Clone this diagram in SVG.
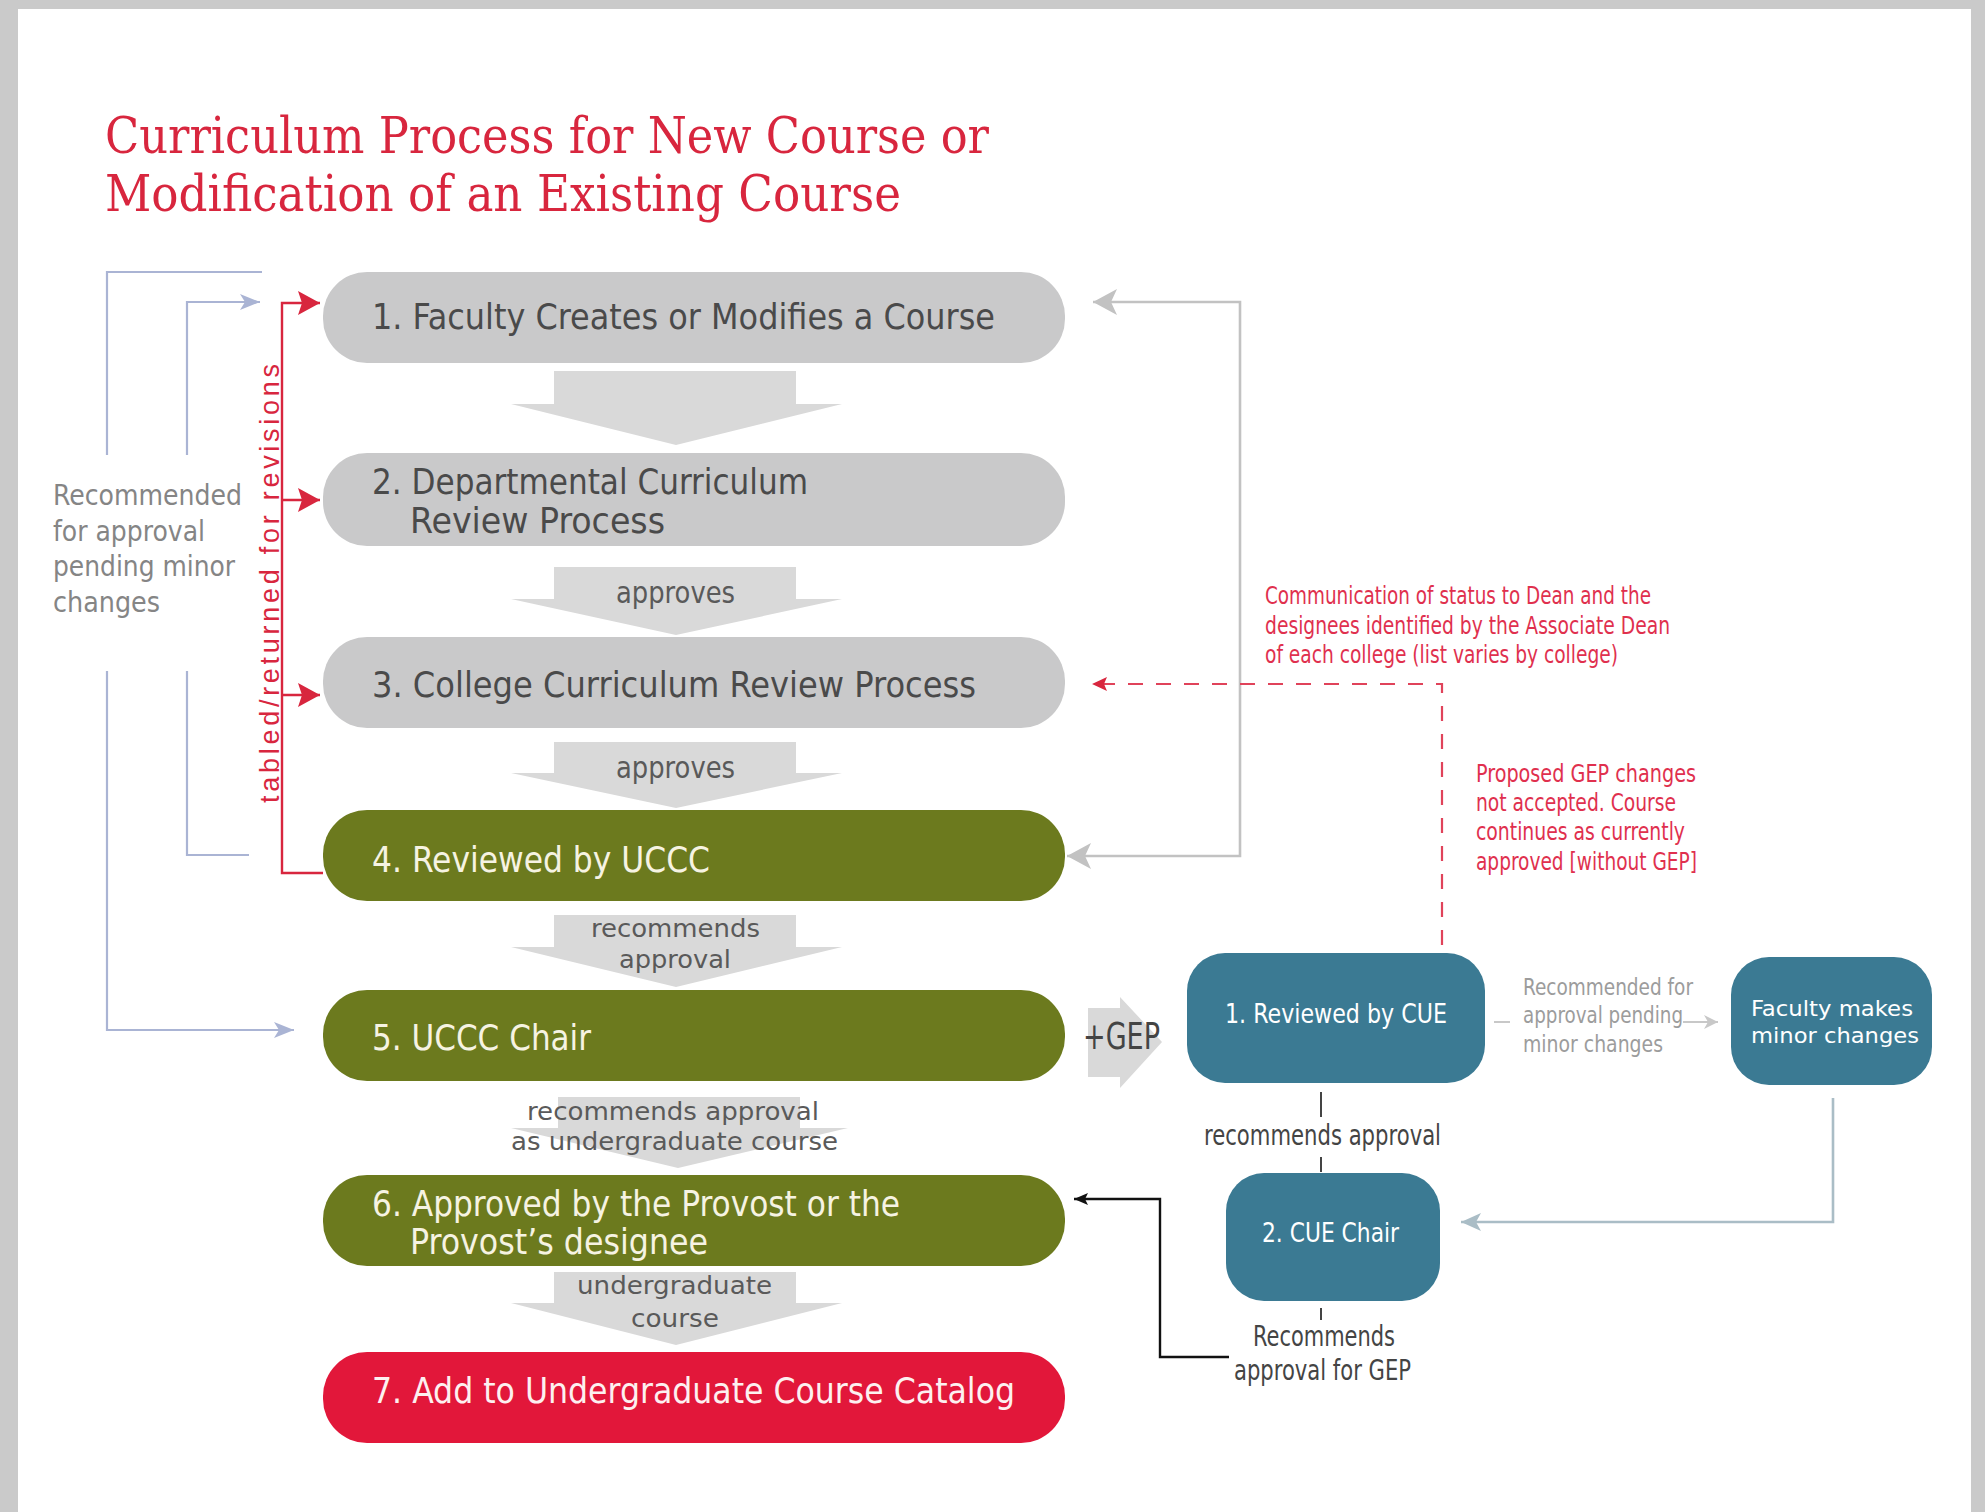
<svg xmlns="http://www.w3.org/2000/svg" width="1985" height="1512" viewBox="0 0 1985 1512">
<style>
.sans{font-family:'Liberation Sans Narrow','DejaVu Sans Condensed','Liberation Sans',Arial,sans-serif}
.gbox{fill:#c9c9ca}
.olive{fill:#6c7a1e}
.redbox{fill:#e2173a}
.teal{fill:#3b7a93}
.darr{fill:#d9d9d9}
.t-dark{fill:#4a4a4a;font-size:36px}
.t-light{fill:#f6f3e2;font-size:36px}
.t-lbl{fill:#5a5a5a;font-size:30px}
.t-lbl2{fill:#5a5a5a;font-size:25px}
.t-left{fill:#858585;font-size:29px}
.t-red{fill:#e0304e;font-size:24px}
.t-cue{fill:#ffffff;font-size:27px}
.t-fac{fill:#ffffff;font-size:21px}
.t-dk2{fill:#444444;font-size:28px}
.t-sm{fill:#9c9c9c;font-size:23px}
.blue{fill:none;stroke:#aab4d4;stroke-width:2.2}
.red{fill:none;stroke:#d8263e;stroke-width:2.4}
.grayc{fill:none;stroke:#c2c2c2;stroke-width:2.6}
.dash{fill:none;stroke:#e0435a;stroke-width:2.2;stroke-dasharray:15 13}
.blk{fill:none;stroke:#111;stroke-width:2.4}
.steel{fill:none;stroke:#aabdc6;stroke-width:2.6}
.lg{fill:none;stroke:#c8c8c8;stroke-width:2}
.dk{fill:none;stroke:#444;stroke-width:2}
</style>
<defs>
<marker id="mBlue" viewBox="0 0 20 16" refX="20" refY="8" markerWidth="20" markerHeight="16" markerUnits="userSpaceOnUse" orient="auto"><path d="M0,0 L20,8 L0,16 L5,8 z" fill="#aab4d4"/></marker>
<marker id="mRed" viewBox="0 0 22 24" refX="22" refY="12" markerWidth="22" markerHeight="24" markerUnits="userSpaceOnUse" orient="auto"><path d="M0,0 L22,12 L0,24 L4,12 z" fill="#d8263e"/></marker>
<marker id="mGray" viewBox="0 0 24 26" refX="24" refY="13" markerWidth="24" markerHeight="26" markerUnits="userSpaceOnUse" orient="auto-start-reverse"><path d="M0,0 L24,13 L0,26 L6,13 z" fill="#c2c2c2"/></marker>
<marker id="mRedS" viewBox="0 0 15 14" refX="15" refY="7" markerWidth="15" markerHeight="14" markerUnits="userSpaceOnUse" orient="auto"><path d="M0,0 L15,7 L0,14 L3,7 z" fill="#d8263e"/></marker>
<marker id="mBlk" viewBox="0 0 14 12" refX="14" refY="6" markerWidth="14" markerHeight="12" markerUnits="userSpaceOnUse" orient="auto"><path d="M0,0 L14,6 L0,12 L3,6 z" fill="#111"/></marker>
<marker id="mSteel" viewBox="0 0 20 18" refX="20" refY="9" markerWidth="20" markerHeight="18" markerUnits="userSpaceOnUse" orient="auto"><path d="M0,0 L20,9 L0,18 L5,9 z" fill="#aabdc6"/></marker>
<marker id="mLg" viewBox="0 0 14 14" refX="14" refY="7" markerWidth="14" markerHeight="14" markerUnits="userSpaceOnUse" orient="auto"><path d="M0,0 L14,7 L0,14 L4,7 z" fill="#c8c8c8"/></marker>
</defs>

<rect x="0" y="0" width="1985" height="1512" fill="#cacaca"/>
<rect x="18" y="9" width="1953" height="1503" fill="#ffffff"/>

<g id="title">
<text x="105" y="153" textLength="884" lengthAdjust="spacingAndGlyphs" style="font-family:'DejaVu Serif Condensed','DejaVu Serif','Liberation Serif',serif;font-size:50px;fill:#d8263e">Curriculum Process for New Course or</text>
<text x="105" y="211" textLength="796" lengthAdjust="spacingAndGlyphs" style="font-family:'DejaVu Serif Condensed','DejaVu Serif','Liberation Serif',serif;font-size:50px;fill:#d8263e">Modification of an Existing Course</text>
</g>

<g id="flow-arrows">
<polygon class="darr" points="554,371 796,371 796,404 842,404 676,445 511,404 554,404"/>
<polygon class="darr" points="554,567 796,567 796,599 842,599 676,635 511,599 554,599"/>
<polygon class="darr" points="554,742 796,742 796,773 842,773 676,808 511,773 554,773"/>
<polygon class="darr" points="554,915 796,915 796,947 842,947 676,987 511,947 554,947"/>
<polygon class="darr" points="558,1097 800,1097 800,1128 848,1128 678,1168 511,1128 558,1128"/>
<polygon class="darr" points="554,1272 796,1272 796,1303 842,1303 676,1345 511,1303 554,1303"/>
<polygon class="darr" points="1088,1008 1120,1008 1120,997 1162,1042 1120,1088 1120,1077 1088,1077"/>
<g class="sans">
<text class="t-lbl" x="616" y="603" textLength="119" lengthAdjust="spacingAndGlyphs">approves</text>
<text class="t-lbl" x="616" y="778" textLength="119" lengthAdjust="spacingAndGlyphs">approves</text>
<text class="t-lbl2" x="591" y="937" textLength="169" lengthAdjust="spacingAndGlyphs">recommends</text>
<text class="t-lbl2" x="619" y="968" textLength="112" lengthAdjust="spacingAndGlyphs">approval</text>
<text class="t-lbl2" x="527" y="1120" textLength="292" lengthAdjust="spacingAndGlyphs">recommends approval</text>
<text class="t-lbl2" x="511" y="1150" textLength="327" lengthAdjust="spacingAndGlyphs">as undergraduate course</text>
<text class="t-lbl2" x="577" y="1294" textLength="195" lengthAdjust="spacingAndGlyphs">undergraduate</text>
<text class="t-lbl2" x="631" y="1327" textLength="88" lengthAdjust="spacingAndGlyphs">course</text>
<text x="1083" y="1049" textLength="77" lengthAdjust="spacingAndGlyphs" style="fill:#444;font-size:38px">+GEP</text>
</g>
</g>

<g id="connectors">
<path class="blue" d="M262,272 H107 V455 M107,671 V1030 H294" marker-end="url(#mBlue)"/>
<path class="blue" d="M249,855 H187 V671 M187,455 V302 H260" marker-end="url(#mBlue)"/>
<path class="red" d="M323,873 H282 V303 H320" marker-end="url(#mRed)"/>
<path class="red" d="M282,500 H320" marker-end="url(#mRed)"/>
<path class="red" d="M282,695 H320" marker-end="url(#mRed)"/>
<path class="grayc" d="M1093,302 H1240 V856 H1067" marker-start="url(#mGray)" marker-end="url(#mGray)"/>
<path class="dash" d="M1442,945 V684 H1092" marker-end="url(#mRedS)"/>
<path class="blk" d="M1229,1357 H1160 V1199 H1074" marker-end="url(#mBlk)"/>
<path class="steel" d="M1833,1098 V1222 H1461" marker-end="url(#mSteel)"/>
<path class="lg" d="M1494,1022 H1510"/>
<path class="lg" d="M1683,1022 H1718" marker-end="url(#mLg)"/>
<path class="dk" d="M1321,1092 V1117 M1321,1157 V1172 M1321,1308 V1320"/>
<g class="sans">
<text class="t-left" x="53" y="505" textLength="189" lengthAdjust="spacingAndGlyphs">Recommended</text>
<text class="t-left" x="53" y="541" textLength="152" lengthAdjust="spacingAndGlyphs">for approval</text>
<text class="t-left" x="53" y="576" textLength="182" lengthAdjust="spacingAndGlyphs">pending minor</text>
<text class="t-left" x="53" y="612" textLength="107" lengthAdjust="spacingAndGlyphs">changes</text>
<text class="t-red" x="1265" y="604" textLength="386" lengthAdjust="spacingAndGlyphs">Communication of status to Dean and the</text>
<text class="t-red" x="1265" y="634" textLength="405" lengthAdjust="spacingAndGlyphs">designees identified by the Associate Dean</text>
<text class="t-red" x="1265" y="663" textLength="353" lengthAdjust="spacingAndGlyphs">of each college (list varies by college)</text>
<text class="t-red" x="1476" y="782" textLength="220" lengthAdjust="spacingAndGlyphs">Proposed GEP changes</text>
<text class="t-red" x="1476" y="811" textLength="200" lengthAdjust="spacingAndGlyphs">not accepted. Course</text>
<text class="t-red" x="1476" y="840" textLength="209" lengthAdjust="spacingAndGlyphs">continues as currently</text>
<text class="t-red" x="1476" y="870" textLength="221" lengthAdjust="spacingAndGlyphs">approved [without GEP]</text>
<text class="t-sm" x="1523" y="995" textLength="170" lengthAdjust="spacingAndGlyphs">Recommended for</text>
<text class="t-sm" x="1523" y="1023" textLength="160" lengthAdjust="spacingAndGlyphs">approval pending</text>
<text class="t-sm" x="1523" y="1052" textLength="140" lengthAdjust="spacingAndGlyphs">minor changes</text>
<text class="t-dk2" x="1204" y="1145" textLength="237" lengthAdjust="spacingAndGlyphs">recommends approval</text>
<text class="t-dk2" x="1253" y="1346" textLength="142" lengthAdjust="spacingAndGlyphs">Recommends</text>
<text class="t-dk2" x="1234" y="1380" textLength="177" lengthAdjust="spacingAndGlyphs">approval for GEP</text>
</g>
<text transform="translate(279,803) rotate(-90)" textLength="439" lengthAdjust="spacing" style="font-family:'Liberation Sans',Arial,sans-serif;font-size:27px;fill:#d8263e">tabled/returned for revisions</text>
</g>

<g id="node1"><rect class="gbox" x="323" y="272" width="742" height="91" rx="44"/><text class="sans t-dark" x="372" y="329" textLength="623" lengthAdjust="spacingAndGlyphs">1. Faculty Creates or Modifies a Course</text></g>
<g id="node2"><rect class="gbox" x="323" y="453" width="742" height="93" rx="44"/><text class="sans t-dark" x="372" y="494" textLength="436" lengthAdjust="spacingAndGlyphs">2. Departmental Curriculum</text><text class="sans t-dark" x="410" y="533" textLength="255" lengthAdjust="spacingAndGlyphs">Review Process</text></g>
<g id="node3"><rect class="gbox" x="323" y="637" width="742" height="91" rx="44"/><text class="sans t-dark" x="372" y="697" textLength="604" lengthAdjust="spacingAndGlyphs">3. College Curriculum Review Process</text></g>
<g id="node4"><rect class="olive" x="323" y="810" width="742" height="91" rx="44"/><text class="sans t-light" x="372" y="872" textLength="338" lengthAdjust="spacingAndGlyphs">4. Reviewed by UCCC</text></g>
<g id="node5"><rect class="olive" x="323" y="990" width="742" height="91" rx="44"/><text class="sans t-light" x="372" y="1050" textLength="219" lengthAdjust="spacingAndGlyphs">5. UCCC Chair</text></g>
<g id="node6"><rect class="olive" x="323" y="1175" width="742" height="91" rx="44"/><text class="sans t-light" x="372" y="1216" textLength="528" lengthAdjust="spacingAndGlyphs">6. Approved by the Provost or the</text><text class="sans t-light" x="410" y="1254" textLength="298" lengthAdjust="spacingAndGlyphs">Provost’s designee</text></g>
<g id="node7"><rect class="redbox" x="323" y="1352" width="742" height="91" rx="44"/><text class="sans t-light" x="372" y="1403" textLength="643" lengthAdjust="spacingAndGlyphs" style="fill:#fdf0f0">7. Add to Undergraduate Course Catalog</text></g>
<g id="cue1"><rect class="teal" x="1187" y="953" width="298" height="130" rx="38"/><text class="sans t-cue" x="1225" y="1023" textLength="222" lengthAdjust="spacingAndGlyphs">1. Reviewed by CUE</text></g>
<g id="faculty"><rect class="teal" x="1731" y="957" width="201" height="128" rx="38"/><text class="sans t-fac" x="1751" y="1016" textLength="162" lengthAdjust="spacingAndGlyphs">Faculty makes</text><text class="sans t-fac" x="1751" y="1043" textLength="168" lengthAdjust="spacingAndGlyphs">minor changes</text></g>
<g id="cue2"><rect class="teal" x="1226" y="1173" width="214" height="128" rx="38"/><text class="sans t-cue" x="1262" y="1242" textLength="137" lengthAdjust="spacingAndGlyphs">2. CUE Chair</text></g>
</svg>
